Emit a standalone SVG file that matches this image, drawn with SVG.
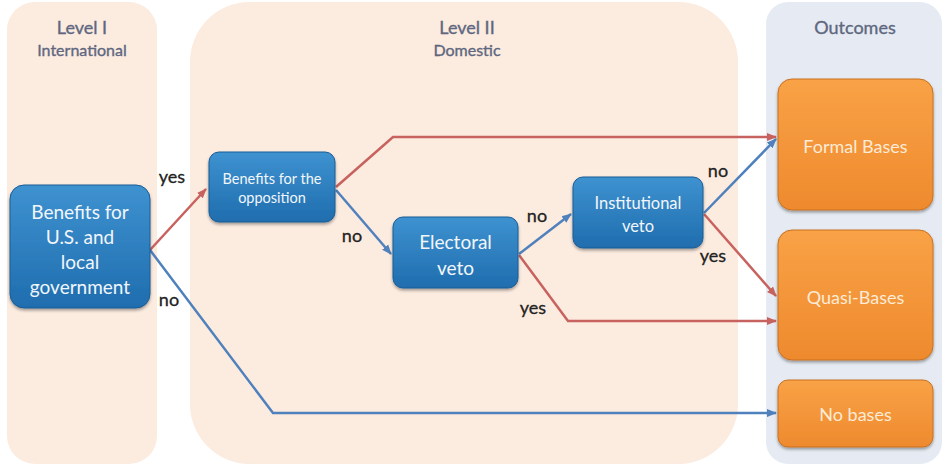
<svg xmlns="http://www.w3.org/2000/svg" width="947" height="466" viewBox="0 0 947 466">
<defs>
<linearGradient id="gBlue" x1="0" y1="0" x2="0" y2="1">
<stop offset="0" stop-color="#3E92D0"/>
<stop offset="1" stop-color="#1F6DAE"/>
</linearGradient>
<linearGradient id="gOrange" x1="0" y1="0" x2="0" y2="1">
<stop offset="0" stop-color="#F9A246"/>
<stop offset="1" stop-color="#EE8A2E"/>
</linearGradient>
<filter id="sh" x="-10%" y="-10%" width="120%" height="130%">
<feDropShadow dx="0" dy="2" stdDeviation="1.5" flood-color="#000" flood-opacity="0.35"/>
</filter>
<marker id="aRed" markerWidth="10" markerHeight="10" refX="9" refY="5" orient="auto" markerUnits="userSpaceOnUse">
<path d="M0,1 L10,5 L0,9 Z" fill="#C8625F"/>
</marker>
<marker id="aBlue" markerWidth="10" markerHeight="10" refX="9" refY="5" orient="auto" markerUnits="userSpaceOnUse">
<path d="M0,1 L10,5 L0,9 Z" fill="#4F81BD"/>
</marker>
</defs>
<style>
.panelWarm{fill:#FCEBDF}
.panelCool{fill:#E6EBF3}
.ptitle{font-family:Lato,"Open Sans",sans-serif;fill:#5E6780;text-anchor:middle;stroke:#5E6780;stroke-width:0.35}
.blue{fill:url(#gBlue);stroke:#1A5C96;stroke-width:1;filter:url(#sh)}
.orange{fill:url(#gOrange);stroke:#C9701F;stroke-width:1;filter:url(#sh)}
.nt{font-family:Lato,"Open Sans",sans-serif;fill:#F2F6FA;text-anchor:middle}
.ot{font-family:Lato,"Open Sans",sans-serif;fill:#FCEBD6;text-anchor:middle;font-size:18px}
.red{fill:none;stroke:#C8625F;stroke-width:2.5}
.bl{fill:none;stroke:#4F81BD;stroke-width:2.5}
.lab{font-family:Lato,"Open Sans",sans-serif;fill:#222;font-size:18px;text-anchor:middle;stroke:#222;stroke-width:0.3}
</style>
<rect width="947" height="466" fill="#FFFFFF"/>
<g id="panel-level1">
<rect class="panelWarm" x="7" y="2" width="150" height="462" rx="28"/>
<text class="ptitle" x="82" y="34" font-size="18">Level I</text>
<text class="ptitle" x="82" y="56" font-size="16">International</text>
</g>
<g id="panel-level2">
<rect class="panelWarm" x="190" y="2" width="548" height="462" rx="60"/>
<text class="ptitle" x="467" y="34" font-size="18">Level II</text>
<text class="ptitle" x="467" y="56" font-size="16">Domestic</text>
</g>
<g id="panel-outcomes">
<rect class="panelCool" x="766" y="2" width="176" height="462" rx="22"/>
<text class="ptitle" x="855" y="34" font-size="18">Outcomes</text>
</g>
<g id="connectors">
<path class="red" d="M150,250 L206,189" marker-end="url(#aRed)"/>
<path class="bl" d="M150,250 L273,413 L776,413" marker-end="url(#aBlue)"/>
<path class="red" d="M336,187 L393,137 L776,137" marker-end="url(#aRed)"/>
<path class="bl" d="M336,190 L391,254" marker-end="url(#aBlue)"/>
<path class="bl" d="M519,254 L571,214" marker-end="url(#aBlue)"/>
<path class="red" d="M519,255 L568,321 L776,321" marker-end="url(#aRed)"/>
<path class="bl" d="M704,213 L776,139" marker-end="url(#aBlue)"/>
<path class="red" d="M704,214 L776,296" marker-end="url(#aRed)"/>
<text class="lab" x="172" y="183">yes</text>
<text class="lab" x="169" y="306">no</text>
<text class="lab" x="352" y="242">no</text>
<text class="lab" x="537" y="222">no</text>
<text class="lab" x="533" y="314">yes</text>
<text class="lab" x="718" y="177">no</text>
<text class="lab" x="713" y="262">yes</text>
</g>
<g id="node-benefits-us">
<rect class="blue" x="10" y="185" width="140" height="123" rx="14"/>
<text class="nt" font-size="19"><tspan x="80" y="219">Benefits for</tspan><tspan x="80" y="244">U.S. and</tspan><tspan x="80" y="269">local</tspan><tspan x="80" y="294">government</tspan></text>
</g>
<g id="node-benefits-opposition">
<rect class="blue" x="209" y="152" width="126" height="70" rx="10"/>
<text class="nt" font-size="14.5"><tspan x="272" y="184">Benefits for the</tspan><tspan x="272" y="203">opposition</tspan></text>
</g>
<g id="node-electoral-veto">
<rect class="blue" x="393" y="217" width="125" height="71" rx="10"/>
<text class="nt" font-size="19"><tspan x="455.5" y="249">Electoral</tspan><tspan x="455.5" y="275">veto</tspan></text>
</g>
<g id="node-institutional-veto">
<rect class="blue" x="573" y="177" width="130" height="71" rx="10"/>
<text class="nt" font-size="16.5"><tspan x="638" y="209">Institutional</tspan><tspan x="638" y="232">veto</tspan></text>
</g>
<g id="node-formal-bases">
<rect class="orange" x="778" y="79" width="155" height="131" rx="14"/>
<text class="ot" x="855.5" y="153">Formal Bases</text>
</g>
<g id="node-quasi-bases">
<rect class="orange" x="778" y="230" width="155" height="130" rx="14"/>
<text class="ot" x="855.5" y="304">Quasi-Bases</text>
</g>
<g id="node-no-bases">
<rect class="orange" x="778" y="380" width="155" height="67" rx="10"/>
<text class="ot" x="855.5" y="421">No bases</text>
</g>
</svg>
